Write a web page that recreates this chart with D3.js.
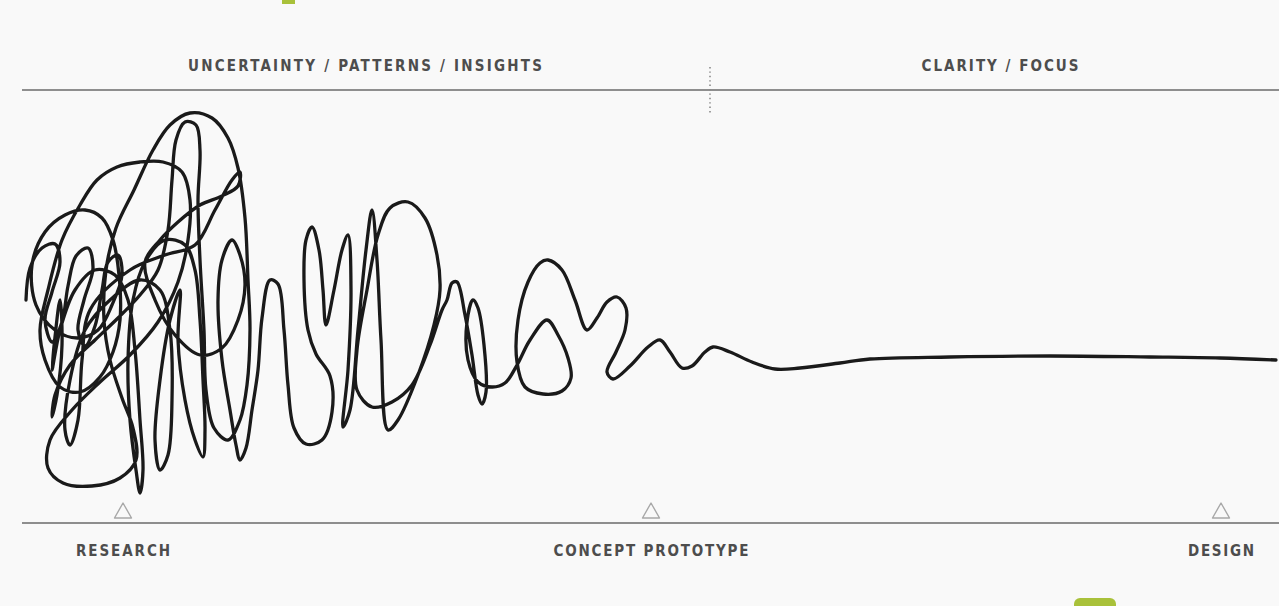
<!DOCTYPE html>
<html><head><meta charset="utf-8">
<script src="https://cdn.jsdelivr.net/npm/d3@7"></script>
<style>html,body{margin:0;padding:0;background:#f9f9f9;} svg{display:block}</style>
</head><body>
<svg id="c" width="1279" height="606"></svg>
<script>
// ---- data ----
const phaseLabels = ["UNCERTAINTY / PATTERNS / INSIGHTS", "CLARITY / FOCUS"];
const phaseCenters = [343, 978];          // progress units
const phaseDivider = 688;                 // progress where clarity begins
const milestoneLabels = ["RESEARCH", "CONCEPT PROTOTYPE", "DESIGN"];
const milestoneProgress = [101, 629, 1199];

// the design squiggle: [progress, uncertainty]
const squiggleResearch = [
 [4,60],[8,92],[20,112],[33,116],[38,98],[30,68],[23,40],[30,18],[40,38],[46,74],[54,104],[66,112],[71,92],[62,60],[56,30],[63,14],[73,34],[80,70],[86,98],[96,105],[100,85],[90,55],[76,30],
 [56,22],[33,30],[14,55],[10,95],[23,128],[43,145],[63,150],[80,142],[91,120],[97,85],[98,40],[91,8],[78,-17],[58,-32],[38,-27],[23,0],[18,30],
 [26,70],[40,120],[58,155],[75,180],[95,193],[118,198],[141,198],[160,188],[168,160],[166,120],[156,78],
 [136,38],[108,5],[78,-22],[50,-50],[28,-80],[26,-108],[41,-123],[70,-126],[98,-118],[114,-100],[111,-68],[100,-38],[88,0],[82,40],
 [84,90],[94,132],[112,170],[131,210],[148,235],[168,247],[190,242],[206,222],[216,192],[223,142],[226,80],[228,30],[225,-25],[218,-60],
 [206,-80],[192,-68],[184,-30],[182,30],[178,100],[176,160],[178,210],[174,235],[163,238],[154,220],[150,180],[146,130],[136,90],[118,65],[96,42],
 [73,20],[48,-5],[33,-35],[30,-57],[35,-35],[40,15],[38,60],[33,23],[30,-10],
 [38,30],[53,70],[73,90],[93,85],[106,60],[113,10],[118,-60],[121,-110],[118,-133],[114,-110],[108,-60],[106,0],[111,60],[123,98],[143,120],[163,115],[173,90],[178,40],[181,-20],[183,-70],[181,-97],[173,-80],[163,-40],[156,20],[158,70],
 [148,40],[138,-20],[133,-80],[138,-110],[146,-95],[150,-40],[148,30],[138,70],[118,80],[88,60],[63,30],[48,-20],[43,-70],[48,-85],[56,-60],[60,0],[68,50],[108,90],[143,105],
 [173,115],[193,150],[210,180],[218,188],[216,174],[200,164],[178,155],[156,138],[138,120],[123,98],
 [133,60],[153,25],[178,5],[200,12],[216,40],[223,75],[218,105],
 [210,120],[200,100],[196,60],[200,0],[208,-50],[214,-85],[218,-100],[224,-88],[230,-50]
];
const squigglePatterns = [
 [236,-10],[240,42],[248,80],[256,76],[262,30],[266,-25],[272,-68],[284,-84],[300,-80],[310,-52],[308,-16],[294,6],[286,30],[282,80],[284,120],[290,133],[297,110],[301,70],[304,35],[312,70],[320,110],[326,125],[329,70],[326,-10],[321,-67],
 [328,-50],[336,30],[344,110],[350,150],[355,100],[359,20],[366,-70],[376,-60],[396,-15],[412,35],[418,70],[415,105],[403,142],[386,158],[368,152],[356,125],[345,70],[335,10],[335,-30],[350,-47],[370,-42],[390,-25],[408,15],[420,50],[425,60],[430,77],[435,78],[443,45],[450,5],[456,-35],[460,-44],[464,-32],[462,15],[456,52],[451,60],[445,38],[446,0],[456,-22],[470,-27],[483,-23],
 [495,-5],[508,20],[525,40],[536,25],[546,2],[549,-18],[540,-31],[521,-34],[503,-27],[495,-2],[496,40],[506,78],[518,97],[526,100],[540,90],[553,60],[565,30],[575,42],[585,58],[595,63],[604,52],[603,30],[594,8],[585,-12],[591,-19],[608,-6],[626,13],[638,20],[648,8],[660,-8],[670,-6],[683,8],[691,13]
];
const squiggleFocus = [
 [708,8],[730,-2],[753,-9],[778,-8],[818,-3],[848,1],[928,3],[1028,4],[1128,3],[1198,2],[1254,0]
];

// ---- drawing ----
const W = 1279, H = 606;
const svg = d3.select("#c");
svg.append("rect").attr("width", W).attr("height", H).attr("fill", "#f9f9f9");

const x = d3.scaleLinear().domain([0, 1257]).range([22, 1279]);
const y = d3.scaleLinear().domain([-140, 250]).range([500, 110]);

const topY = 90, bottomY = 523;
const ruleColor = "#8e8e8e";
svg.append("line").attr("x1", 22).attr("x2", W).attr("y1", topY).attr("y2", topY)
  .attr("stroke", ruleColor).attr("stroke-width", 2);
svg.append("line").attr("x1", 22).attr("x2", W).attr("y1", bottomY).attr("y2", bottomY)
  .attr("stroke", ruleColor).attr("stroke-width", 2);

// dotted divider
svg.append("line").attr("x1", x(phaseDivider)).attr("x2", x(phaseDivider))
  .attr("y1", 67).attr("y2", 114)
  .attr("stroke", "#8a8a8a").attr("stroke-width", 1.6).attr("stroke-dasharray", "1.4 3");

const font = "'DejaVu Sans Condensed','DejaVu Sans',sans-serif";
const phaseWidths = [354, 157];
svg.selectAll("text.phase").data(phaseLabels).join("text").attr("class", "phase")
  .attr("x", (d, i) => x(phaseCenters[i])).attr("y", 71)
  .attr("text-anchor", "middle").attr("font-family", font).attr("font-weight", "bold")
  .attr("font-size", 15).attr("fill", "#4d4d4d")
  .attr("textLength", (d, i) => phaseWidths[i]).attr("lengthAdjust", "spacing")
  .text(d => d);

const msWidths = [94, 195, 66];
svg.selectAll("text.ms").data(milestoneLabels).join("text").attr("class", "ms")
  .attr("x", (d, i) => x(milestoneProgress[i])).attr("y", 556)
  .attr("text-anchor", "middle").attr("font-family", font).attr("font-weight", "bold")
  .attr("font-size", 15).attr("fill", "#4d4d4d")
  .attr("textLength", (d, i) => msWidths[i]).attr("lengthAdjust", "spacing")
  .text(d => d);

// milestone triangles
svg.selectAll("path.tri").data(milestoneProgress).join("path").attr("class", "tri")
  .attr("d", p => { const cx = x(p); return `M${cx},503 L${cx + 8.5},518 L${cx - 8.5},518 Z`; })
  .attr("fill", "none").attr("stroke", "#a8a8a8").attr("stroke-width", 1.4).attr("stroke-linejoin", "round");

// squiggle
const allPts = squiggleResearch.concat(squigglePatterns, squiggleFocus);
const line = d3.line().x(d => x(d[0])).y(d => y(d[1])).curve(d3.curveCatmullRom.alpha(0.5));
svg.append("path").attr("d", line(allPts)).attr("fill", "none")
  .attr("stroke", "#1a1a1a").attr("stroke-width", 3.3).attr("stroke-linecap", "round").attr("stroke-linejoin", "round");

// accent marks
svg.append("rect").attr("x", 282).attr("y", 0).attr("width", 13).attr("height", 4).attr("fill", "#a9c13a");
svg.append("rect").attr("x", 1074).attr("y", 598).attr("width", 42).attr("height", 18).attr("rx", 6).attr("fill", "#a9c13a");
</script>
</body></html>
